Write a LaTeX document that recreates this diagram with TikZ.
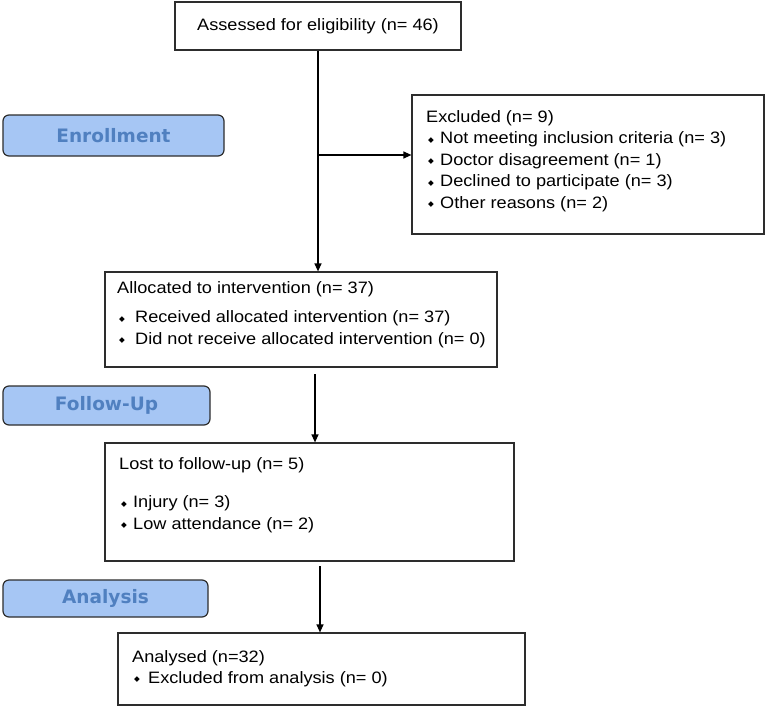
\documentclass[tikz,border=0pt]{standalone}
\usepackage{fontspec}
\setmainfont{Liberation Sans}[FakeStretch=1.1]
\newfontfamily\pillfont{DejaVu Sans}
\newfontfamily\symfont{DejaVu Sans}
\usetikzlibrary{arrows.meta}
\definecolor{pillfill}{RGB}{166,198,244}
\definecolor{pilltext}{RGB}{80,128,192}
\definecolor{edgecol}{RGB}{45,45,45}
\newcommand{\bul}[1][14pt]{\makebox[#1][l]{\hspace{2pt}\raisebox{1.5pt}{\symfont\fontsize{7.5}{7.5}\selectfont ◆}}}
\begin{document}
\begin{tikzpicture}[x=1pt,y=-1pt,
  box/.style={draw=edgecol, line width=1.2pt, inner sep=0pt, fill=white, font=\fontsize{16.5}{21.5}\selectfont},
  txt/.style={anchor=base west, align=left, inner sep=0pt, font=\fontsize{16.5}{21.5}\selectfont},
  pill/.style={draw=edgecol, fill=pillfill, rounded corners=6pt, line width=1.2pt, text=pilltext, inner sep=0pt, font=\pillfont\bfseries\fontsize{18.5}{18.5}\selectfont},
  arr/.style={line width=1.2pt, draw=black, -{Triangle[width=7pt,length=8pt]}}]
\useasboundingbox (0,0) rectangle (768,707);
% boxes
\node[box, minimum width=286, minimum height=48] (top) at (318,26) {Assessed for eligibility (n= 46)};
\node[box, minimum width=352, minimum height=139] (excl) at (588,164.5) {};
\node[box, minimum width=392, minimum height=95] (alloc) at (301,319.5) {};
\node[box, minimum width=409, minimum height=118] (lost) at (309.5,502) {};
\node[box, minimum width=407, minimum height=72] (anal) at (321.5,669) {};
% texts (anchored at the baseline of their last line)
\node[txt] (exclt) at (426,208) {Excluded (n= 9)\\
\bul Not meeting inclusion criteria (n= 3)\\
\bul Doctor disagreement (n= 1)\\
\bul Declined to participate (n= 3)\\
\bul Other reasons (n= 2)};
\node[txt] (alloct) at (117,344) {Allocated to intervention (n= 37)\\[7.5pt]
\bul[18pt]Received allocated intervention (n= 37)\\
\bul[18pt]Did not receive allocated intervention (n= 0)};
\node[txt] (lostt) at (119,529) {Lost to follow-up (n= 5)\\[16.5pt]
\bul Injury (n= 3)\\
\bul Low attendance (n= 2)};
\node[txt] (analt) at (132,683) {Analysed (n=32)\\[-1pt]
\bul[16pt]Excluded from analysis (n= 0)};
% pills
\node[pill, minimum width=221, minimum height=41] (enr) at (113.5,135.5) {Enrollment};
\node[pill, minimum width=207, minimum height=39] (fol) at (106.5,405.5) {Follow-Up};
\node[pill, minimum width=205, minimum height=37] (ana) at (105.5,598.5) {Analysis};
% connectors
\draw[arr] (top.south) -- (top.south |- alloc.north);
\coordinate (br) at (318,155);
\draw[arr] (br) -- (br -| excl.west);
\coordinate (c1) at (315,374);
\draw[arr] (c1) -- (c1 |- lost.north);
\coordinate (c2) at (320,566);
\draw[arr] (c2) -- (c2 |- anal.north);
\end{tikzpicture}
\end{document}
